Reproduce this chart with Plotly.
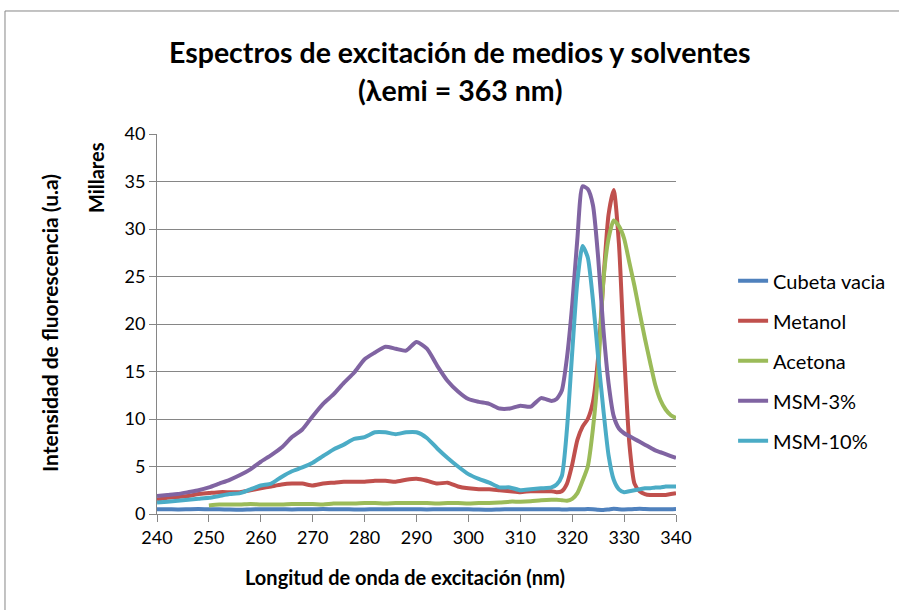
import plotly.graph_objects as go

wavelength = [240, 242, 244, 246, 248, 250, 252, 254, 256, 258, 260, 262, 264, 266, 268,
              270, 272, 274, 276, 278, 280, 282, 284, 286, 288, 290, 292, 294, 296, 298,
              300, 302, 304, 306, 308, 310, 312, 314, 316,
              317, 318, 319, 320, 321, 322, 323, 324, 325, 326, 327, 328, 329, 330,
              331, 332, 333, 334, 335, 336, 337, 338, 339, 340]

cubeta_vacia = [0.50, 0.50, 0.48, 0.50, 0.52, 0.50, 0.50, 0.47, 0.45, 0.48, 0.50, 0.50,
                0.50, 0.48, 0.50, 0.50, 0.52, 0.50, 0.50, 0.48, 0.48, 0.50, 0.50, 0.50,
                0.50, 0.50, 0.48, 0.50, 0.50, 0.50, 0.50, 0.47, 0.45, 0.48, 0.50, 0.50,
                0.50, 0.50, 0.50,
                0.50, 0.48, 0.48, 0.50, 0.50, 0.50, 0.52, 0.50, 0.45, 0.42, 0.48, 0.55,
                0.50, 0.48, 0.50, 0.52, 0.55, 0.52, 0.50, 0.50, 0.50, 0.50, 0.50, 0.52]

metanol = [1.5, 1.7, 1.8, 1.9, 2.1, 2.2, 2.3, 2.3, 2.3, 2.5, 2.7, 2.9, 3.1, 3.2, 3.2,
           3.0, 3.2, 3.3, 3.4, 3.4, 3.4, 3.5, 3.5, 3.4, 3.6, 3.7, 3.5, 3.2, 3.3, 2.9,
           2.7, 2.6, 2.6, 2.5, 2.4, 2.3, 2.4, 2.4, 2.4,
           2.3, 2.4, 3.2, 5.2, 7.8, 9.2, 10.0, 11.8, 16.5, 24.5, 31.5, 34.1, 28.5, 17.0,
           7.5, 3.2, 2.4, 2.1, 2.0, 2.0, 2.0, 2.0, 2.1, 2.2]

acetona_wavelength = wavelength[5:]
acetona = [0.9, 1.0, 1.0, 1.0, 1.05, 1.0, 1.0, 1.0, 1.05, 1.05,
           1.05, 1.0, 1.1, 1.1, 1.1, 1.15, 1.15, 1.1, 1.15, 1.15, 1.15, 1.15, 1.1, 1.15, 1.15,
           1.1, 1.15, 1.15, 1.2, 1.3, 1.3, 1.35, 1.45, 1.5,
           1.5, 1.45, 1.4, 1.6, 2.2, 3.5, 5.0, 9.0, 15.0, 24.5, 29.0, 30.9, 30.3, 29.0,
           26.5, 24.0, 21.2, 18.5, 16.0, 13.6, 12.0, 11.0, 10.4, 10.1]

msm_3 = [1.9, 2.0, 2.1, 2.3, 2.5, 2.8, 3.2, 3.6, 4.1, 4.7, 5.5, 6.2, 7.0, 8.1, 8.9,
         10.3, 11.6, 12.6, 13.8, 14.9, 16.3, 17.0, 17.6, 17.4, 17.2, 18.1, 17.4, 15.6, 14.0, 12.9,
         12.1, 11.8, 11.6, 11.1, 11.1, 11.4, 11.3, 12.2, 11.9,
         12.1, 13.0, 16.5, 22.0, 29.0, 34.5, 34.2, 32.5, 27.0, 19.5, 13.8, 10.3, 9.0, 8.5,
         8.2, 7.9, 7.6, 7.3, 7.0, 6.7, 6.5, 6.3, 6.1, 5.9]

msm_10 = [1.2, 1.3, 1.4, 1.5, 1.6, 1.7, 1.9, 2.1, 2.2, 2.6, 3.0, 3.2, 3.9, 4.5, 4.9,
          5.4, 6.1, 6.8, 7.3, 7.9, 8.1, 8.6, 8.6, 8.4, 8.6, 8.6, 8.0, 6.9, 5.9, 5.0,
          4.2, 3.7, 3.3, 2.8, 2.8, 2.5, 2.6, 2.7, 2.8,
          3.1, 4.0, 9.0, 17.0, 24.5, 28.2, 27.0, 22.5, 16.5, 11.0, 6.2, 3.6, 2.6, 2.3,
          2.4, 2.5, 2.6, 2.7, 2.7, 2.8, 2.8, 2.9, 2.9, 2.9]

series = [
    ("Cubeta vacia", wavelength, cubeta_vacia, "#4F81BD"),
    ("Metanol", wavelength, metanol, "#C0504D"),
    ("Acetona", acetona_wavelength, acetona, "#9BBB59"),
    ("MSM-3%", wavelength, msm_3, "#8064A2"),
    ("MSM-10%", wavelength, msm_10, "#4BACC6"),
]

FONT = "Lato, Calibri, sans-serif"
GRID = "#868686"

fig = go.Figure()
for name, xs, ys, color in series:
    fig.add_trace(go.Scatter(
        x=xs, y=ys, name=name, mode="lines", legendgroup=name,
        line=dict(color=color, width=4, shape="spline", smoothing=0.6),
    ))

def note(text, x, y, size, angle=0):
    return dict(text=text, xref="paper", yref="paper", x=x, y=y,
                xanchor="center", yanchor="middle", showarrow=False,
                textangle=angle, font=dict(family=FONT, size=size, color="black"))

fig.update_layout(
    width=899, height=610,
    margin=dict(l=157, r=223, t=134, b=96, autoexpand=False),
    paper_bgcolor="white", plot_bgcolor="white",
    font=dict(family=FONT, color="black", size=18),
    showlegend=True,
    legend=dict(x=1.11, y=0.665, xanchor="left", yanchor="top",
                font=dict(family=FONT, size=20, color="black"),
                tracegroupgap=11, bgcolor="rgba(0,0,0,0)"),
    xaxis=dict(range=[240, 340], dtick=10, tick0=240, showgrid=False,
               showline=True, linecolor=GRID, linewidth=1,
               ticks="outside", ticklen=7, tickcolor=GRID,
               tickfont=dict(family=FONT, size=18), zeroline=False),
    yaxis=dict(range=[0, 40], dtick=5, showgrid=True, gridcolor=GRID, gridwidth=1,
               showline=True, linecolor=GRID, linewidth=1,
               ticks="outside", ticklen=7, tickcolor=GRID,
               tickfont=dict(family=FONT, size=18), zeroline=False),
    shapes=[dict(type="rect", xref="paper", yref="paper",
                 x0=-0.2929, x1=1.45, y0=-0.3, y1=1.3237,
                 line=dict(color=GRID, width=1), fillcolor="rgba(0,0,0,0)", layer="below")],
    annotations=[
        note("<b>Espectros de excitación de medios y solventes</b>", 0.584, 1.2158, 28.5),
        note("<b>(λemi = 363 nm)</b>", 0.584, 1.1158, 28.5),
        note("<b>Intensidad de fluorescencia (u.a)</b>", -0.208, 0.5026, 21, -90),
        note("<b>Millares</b>", -0.1175, 0.884, 20, -90),
        note("<b>Longitud de onda de excitación (nm)</b>", 0.478, -0.166, 20),
    ],
)

fig.write_html("out.html")
